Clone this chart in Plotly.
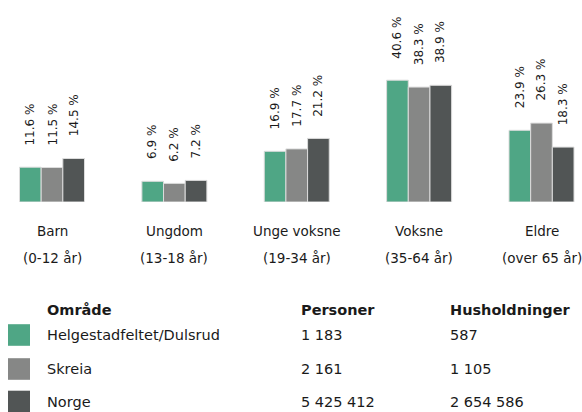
import plotly.graph_objects as go

categories = ["Barn", "Ungdom", "Unge voksne", "Voksne", "Eldre"]
category_sub = ["(0-12 år)", "(13-18 år)", "(19-34 år)", "(35-64 år)", "(over 65 år)"]
series_names = ["Helgestadfeltet/Dulsrud", "Skreia", "Norge"]
helgestad = [11.6, 6.9, 16.9, 40.6, 23.9]
skreia = [11.5, 6.2, 17.7, 38.3, 26.3]
norge = [14.5, 7.2, 21.2, 38.9, 18.3]
personer = ["1 183", "2 161", "5 425 412"]
husholdninger = ["587", "1 105", "2 654 586"]
colors = ["#4fa685", "#868786", "#515555"]

W, H = 582, 412
FONT = "DejaVu Sans"
TXT = "#1a1a1a"
series_vals = [helgestad, skreia, norge]

fig = go.Figure()
xs = list(range(len(categories)))
for name, vals, col in zip(series_names, series_vals, colors):
    fig.add_trace(go.Bar(x=xs, y=vals, name=name, hoverinfo="skip",
                         marker=dict(color=col, line=dict(color="#dcdcdc", width=1))))

ann = []
bar_px = 21.67
for i, vals in enumerate(series_vals):
    for j, v in enumerate(vals):
        ann.append(dict(x=j, y=v, xref="x", yref="y", text=f"{v:.1f} %",
                        textangle=-90, showarrow=False, yanchor="bottom", xanchor="center",
                        xshift=(i - 1) * bar_px, yshift=20,
                        font=dict(family=FONT, size=12, color=TXT)))

def py(px):
    return 1 - px / H

for j, (c, s) in enumerate(zip(categories, category_sub)):
    ann.append(dict(x=j, y=py(230.5), xref="x", yref="paper", text=c, showarrow=False,
                    xanchor="center", yanchor="middle", font=dict(family=FONT, size=13.5, color=TXT)))
    ann.append(dict(x=j, y=py(257.5), xref="x", yref="paper", text=s, showarrow=False,
                    xanchor="center", yanchor="middle", font=dict(family=FONT, size=13.5, color=TXT)))

# table
hdr_y = py(310)
row_y = [py(334.5), py(369), py(401.5)]
col_x = [45 / W, 299 / W, 448 / W]
for txt, x in zip(["Område", "Personer", "Husholdninger"], col_x):
    ann.append(dict(x=x, y=hdr_y, xref="paper", yref="paper", text=f"<b>{txt}</b>", showarrow=False,
                    xanchor="left", yanchor="middle", font=dict(family=FONT, size=14.5, color=TXT)))
shapes = []
sq_centers = [335, 369, 401.5]
for k in range(3):
    for txt, x in zip([series_names[k], personer[k], husholdninger[k]], col_x):
        ann.append(dict(x=x, y=row_y[k], xref="paper", yref="paper", text=txt, showarrow=False,
                        xanchor="left", yanchor="middle", font=dict(family=FONT, size=14.5, color=TXT)))
    shapes.append(dict(type="rect", xref="paper", yref="paper", x0=8 / W, x1=30 / W,
                       y0=py(sq_centers[k] + 10.8), y1=py(sq_centers[k] - 10.8),
                       fillcolor=colors[k], line=dict(width=0)))

px_per_unit = 122.375
fig.update_layout(
    width=W, height=H, margin=dict(l=0, r=0, t=0, b=0),
    paper_bgcolor="white", plot_bgcolor="white",
    barmode="group", bargap=1 - 65 / px_per_unit, bargroupgap=0,
    showlegend=False,
    xaxis=dict(range=[-52 / px_per_unit, (W - 52) / px_per_unit], showticklabels=False,
               showgrid=False, zeroline=False, showline=False, ticks=""),
    yaxis=dict(range=[0, 202 / 3.0], domain=[1 - 202 / H, 1], visible=False),
    annotations=ann, shapes=shapes,
)
fig.write_html("out.html", config={"displayModeBar": False},
               post_script="document.body.style.margin='0';document.body.style.overflow='hidden';")
